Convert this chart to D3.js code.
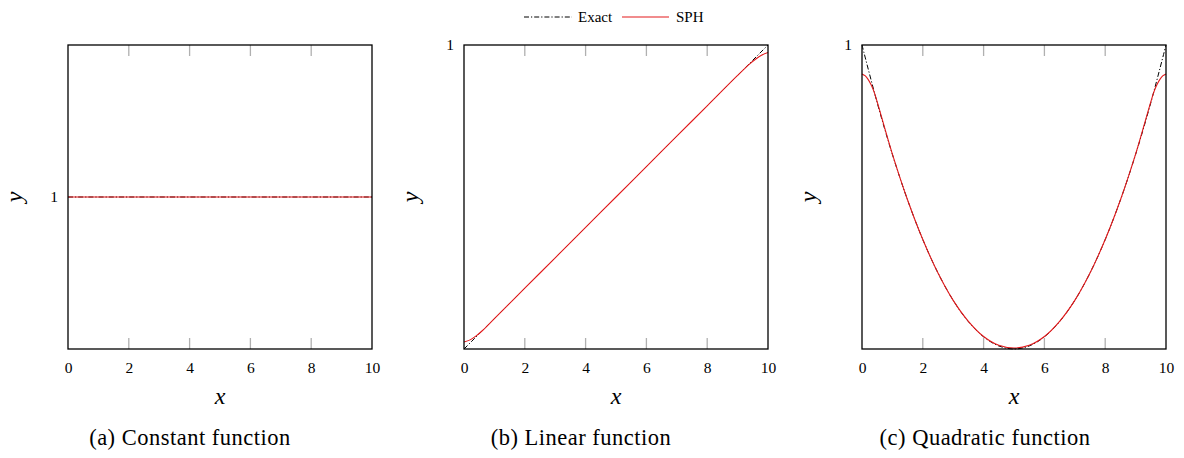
<!DOCTYPE html>
<html><head><meta charset="utf-8">
<script src="https://cdn.jsdelivr.net/npm/d3@7"></script>
<style>
body{margin:0;background:#fff}
svg{display:block}
svg text{font-family:"Liberation Serif","DejaVu Serif",serif;fill:#000}
</style>
</head><body>
<svg id="c" width="1184" height="458"></svg>
<script>
// ---- data ----
const xTicks = [0, 2, 4, 6, 8, 10];
const yTickLabel = ["1"];
const captions = ["(a) Constant function", "(b) Linear function", "(c) Quadratic function"];
const seriesNames = ["Exact", "SPH"];

const constExactX = [0, 10];
const constExactY = [1, 1];
const constSphX = [0, 2, 4, 6, 8, 10];
const constSphY = [1, 1, 1, 1, 1, 1];

const linExactX = [0, 10];
const linExactY = [0, 1];
const linSphX = [0, 0.2, 0.4, 0.6, 1, 2, 3, 4, 5, 6, 7, 8, 9, 9.4, 9.6, 9.8, 10];
const linSphY = [0.023, 0.030, 0.043, 0.060, 0.100, 0.200, 0.300, 0.400, 0.500, 0.600, 0.700, 0.800, 0.900, 0.938, 0.954, 0.967, 0.975];

const quadExactX = [0, 0.5, 1, 1.5, 2, 2.5, 3, 3.5, 4, 4.5, 5, 5.5, 6, 6.5, 7, 7.5, 8, 8.5, 9, 9.5, 10];
const quadExactY = [1, 0.81, 0.64, 0.49, 0.36, 0.25, 0.16, 0.09, 0.04, 0.01, 0, 0.01, 0.04, 0.09, 0.16, 0.25, 0.36, 0.49, 0.64, 0.81, 1];
const quadSphX = [0, 0.1, 0.2, 0.3, 0.4, 0.5, 1, 1.5, 2, 2.5, 3, 3.5, 4, 4.5, 5, 5.5, 6, 6.5, 7, 7.5, 8, 8.5, 9, 9.5, 9.6, 9.7, 9.8, 9.9, 10];
const quadSphY = [0.905, 0.899, 0.887, 0.869, 0.845, 0.813, 0.641, 0.490, 0.360, 0.250, 0.160, 0.091, 0.041, 0.012, 0.003, 0.012, 0.041, 0.091, 0.160, 0.250, 0.360, 0.490, 0.641, 0.813, 0.845, 0.869, 0.887, 0.899, 0.905];

// ---- layout ----
const svg = d3.select("#c");
const panelW = 304, plotTop = 45, plotBottom = 349;
const panels = [
  {left: 68, yDomain: [0, 2], ex: constExactX, ey: constExactY, sx: constSphX, sy: constSphY, capX: 190},
  {left: 464, yDomain: [0, 1], ex: linExactX, ey: linExactY, sx: linSphX, sy: linSphY, capX: 581},
  {left: 862, yDomain: [0, 1], ex: quadExactX, ey: quadExactY, sx: quadSphX, sy: quadSphY, capX: 985}
];
const red = "#e31a1c";
const dash = "5,2,1.2,2";

panels.forEach((p, i) => {
  const x = d3.scaleLinear().domain([0, 10]).range([p.left, p.left + panelW]);
  const y = d3.scaleLinear().domain(p.yDomain).range([plotBottom, plotTop]);
  const g = svg.append("g");

  const inner = xTicks.filter(t => t > 0 && t < 10);
  g.selectAll(".tb").data(inner).join("line")
    .attr("x1", d => x(d)).attr("x2", d => x(d))
    .attr("y1", plotBottom).attr("y2", plotBottom - 11)
    .attr("stroke", "#b0b0b0").attr("stroke-width", 1.3);
  g.selectAll(".tt").data(inner).join("line")
    .attr("x1", d => x(d)).attr("x2", d => x(d))
    .attr("y1", plotTop).attr("y2", plotTop + 11)
    .attr("stroke", "#b0b0b0").attr("stroke-width", 1.3);

  const clipId = "clip" + i;
  svg.append("clipPath").attr("id", clipId).append("rect")
    .attr("x", p.left - 1).attr("y", plotTop - 1).attr("width", panelW + 2).attr("height", plotBottom - plotTop + 2);

  const line = d3.line().x(d => x(d[0])).y(d => y(d[1])).curve(d3.curveCatmullRom.alpha(0.5));
  const ex = p.ex.map((v, k) => [v, p.ey[k]]);
  const sp = p.sx.map((v, k) => [v, p.sy[k]]);
  g.append("path").attr("d", line(ex)).attr("fill", "none")
    .attr("stroke", "#000").attr("stroke-width", 1).attr("stroke-dasharray", dash)
    .attr("clip-path", `url(#${clipId})`);
  g.append("path").attr("d", line(sp)).attr("fill", "none")
    .attr("stroke", red).attr("stroke-width", 1.1)
    .attr("clip-path", `url(#${clipId})`);

  g.append("rect").attr("x", p.left).attr("y", plotTop).attr("width", panelW).attr("height", plotBottom - plotTop)
    .attr("fill", "none").attr("stroke", "#000").attr("stroke-width", 1.3);

  const ax = svg.append("g").attr("transform", `translate(0,${plotBottom})`)
    .call(d3.axisBottom(x).tickValues(xTicks).tickSize(0).tickPadding(13).tickFormat(d3.format("d")));
  ax.attr("font-family", null);
  ax.select(".domain").remove();
  ax.selectAll("text").style("font-size", "15.5px");

  const ay = svg.append("g").attr("transform", `translate(${p.left},0)`)
    .call(d3.axisLeft(y).tickValues([1]).tickSize(0).tickPadding(10).tickFormat(() => yTickLabel[0]));
  ay.attr("font-family", null);
  ay.select(".domain").remove();
  ay.selectAll("text").style("font-size", "15.5px");

  svg.append("text").attr("x", p.left + panelW / 2).attr("y", 404).attr("text-anchor", "middle")
    .style("font-style", "italic").style("font-size", "24px").text("x");
  svg.append("text").attr("transform", `translate(${p.left - 46},${(plotTop + plotBottom) / 2}) rotate(-90)`)
    .attr("text-anchor", "middle").style("font-style", "italic")
    .style("font-size", "24px").text("y");

  svg.append("text").attr("x", p.capX).attr("y", 445).attr("text-anchor", "middle")
    .style("font-size", "22.5px").style("letter-spacing", "0.5px").text(captions[i]);
});

const lg = svg.append("g");
lg.append("line").attr("x1", 524).attr("x2", 572).attr("y1", 17).attr("y2", 17)
  .attr("stroke", "#000").attr("stroke-width", 1).attr("stroke-dasharray", dash);
lg.append("text").attr("x", 578).attr("y", 21.5).style("font-size", "15px").text(seriesNames[0]);
lg.append("line").attr("x1", 622).attr("x2", 669).attr("y1", 17).attr("y2", 17)
  .attr("stroke", red).attr("stroke-width", 1.1);
lg.append("text").attr("x", 676).attr("y", 21.5).style("font-size", "15px").text(seriesNames[1]);
</script>
</body></html>
